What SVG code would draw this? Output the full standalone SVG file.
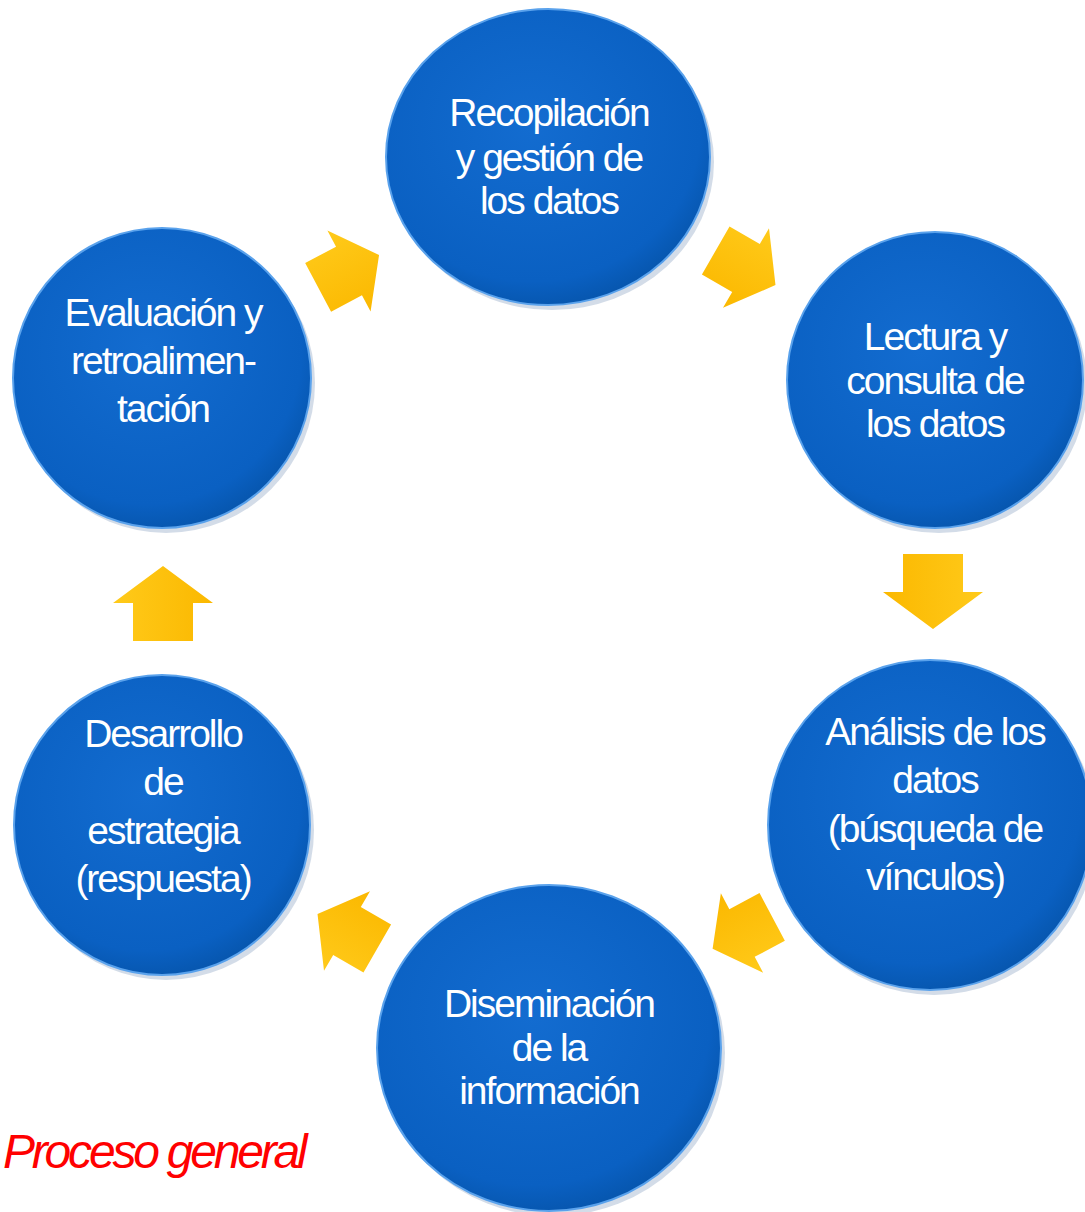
<svg xmlns="http://www.w3.org/2000/svg" width="1085" height="1212" viewBox="0 0 1085 1212">
<style>
.lbl{font-family:"Liberation Sans",Arial,sans-serif;font-size:39px;fill:#ffffff;text-anchor:middle;letter-spacing:-2px}
.ttl{font-family:"Liberation Sans",Arial,sans-serif;font-size:48px;font-style:italic;fill:#ff0000;letter-spacing:-3.2px}
.disc{fill:url(#blue);stroke:#5aa2ec;stroke-width:2}
.shadow{fill:#0a3f80;opacity:0.18}
.arw{fill:url(#gold)}
</style>
<defs>
<radialGradient id="blue" cx="0.45" cy="0.4" r="0.65">
<stop offset="0" stop-color="#136cd0"/>
<stop offset="0.8" stop-color="#0a60c2"/>
<stop offset="1" stop-color="#0552a6"/>
</radialGradient>
<linearGradient id="gold" x1="0" y1="0" x2="0" y2="1">
<stop offset="0" stop-color="#ffca1a"/>
<stop offset="1" stop-color="#fbb800"/>
</linearGradient>
<path id="arr" d="M-38,-30 L0,-30 L0,-50 L37,0 L0,50 L0,30 L-38,30 Z"/>
</defs>
<g id="connectors">
<use href="#arr" class="arw" transform="translate(746,268) rotate(30) scale(0.92)"/>
<use href="#arr" class="arw" transform="translate(933,592) rotate(90)"/>
<use href="#arr" class="arw" transform="translate(742,933) rotate(152) scale(0.9)"/>
<use href="#arr" class="arw" transform="translate(347,931) rotate(210) scale(0.92)"/>
<use href="#arr" class="arw" transform="translate(163,603) rotate(-90)"/>
<use href="#arr" class="arw" transform="translate(349,271) rotate(-28) scale(0.92)"/>
</g>
<g id="n1">
<ellipse class="shadow" cx="552" cy="162" rx="162" ry="148"/>
<ellipse class="disc" cx="548" cy="157" rx="162" ry="148"/>
<text class="lbl" x="549" y="126">Recopilación</text>
<text class="lbl" x="549" y="171">y gestión de</text>
<text class="lbl" x="549" y="214">los datos</text>
</g>
<g id="n2">
<ellipse class="shadow" cx="939" cy="385" rx="148" ry="148"/>
<ellipse class="disc" cx="935" cy="380" rx="148" ry="148"/>
<text class="lbl" x="935" y="350">Lectura y</text>
<text class="lbl" x="935" y="394">consulta de</text>
<text class="lbl" x="935" y="437">los datos</text>
</g>
<g id="n3">
<ellipse class="shadow" cx="934" cy="830" rx="162" ry="165"/>
<ellipse class="disc" cx="930" cy="825" rx="162" ry="165"/>
<text class="lbl" x="935" y="745">Análisis de los</text>
<text class="lbl" x="935" y="793">datos</text>
<text class="lbl" x="935" y="842">(búsqueda de</text>
<text class="lbl" x="935" y="890">vínculos)</text>
</g>
<g id="n4">
<ellipse class="shadow" cx="553" cy="1053" rx="172" ry="163"/>
<ellipse class="disc" cx="549" cy="1048" rx="172" ry="163"/>
<text class="lbl" x="549" y="1017">Diseminación</text>
<text class="lbl" x="549" y="1061">de la</text>
<text class="lbl" x="549" y="1104">información</text>
</g>
<g id="n5">
<ellipse class="shadow" cx="166" cy="830" rx="148" ry="150"/>
<ellipse class="disc" cx="162" cy="825" rx="148" ry="150"/>
<text class="lbl" x="163" y="747">Desarrollo</text>
<text class="lbl" x="163" y="795">de</text>
<text class="lbl" x="163" y="844">estrategia</text>
<text class="lbl" x="163" y="892">(respuesta)</text>
</g>
<g id="n6">
<ellipse class="shadow" cx="166" cy="383" rx="149" ry="150"/>
<ellipse class="disc" cx="162" cy="378" rx="149" ry="150"/>
<text class="lbl" x="163" y="326">Evaluación y</text>
<text class="lbl" x="163" y="374">retroalimen-</text>
<text class="lbl" x="163" y="422">tación</text>
</g>
<text class="ttl" x="3" y="1168">Proceso general</text>
</svg>
